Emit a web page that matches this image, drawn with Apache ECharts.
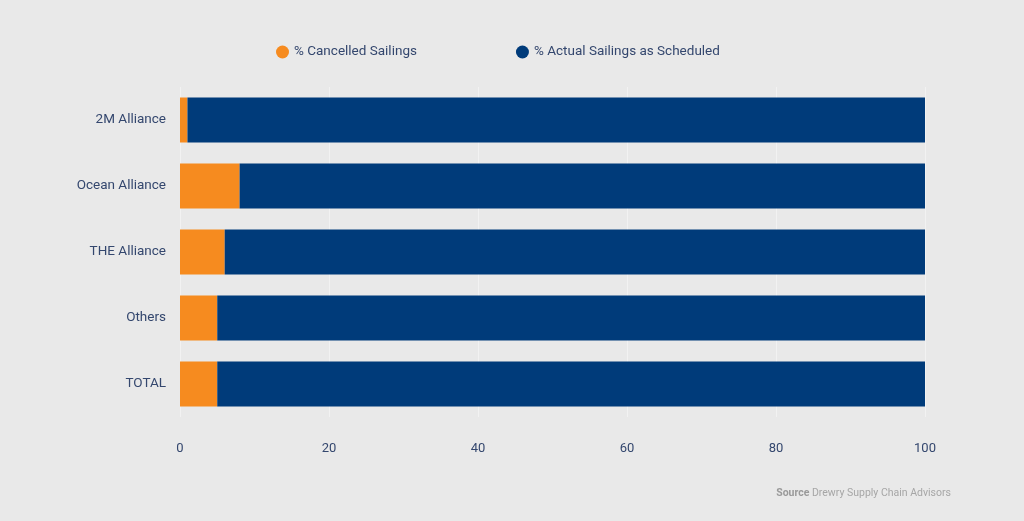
<!DOCTYPE html>
<html>
<head>
<meta charset="utf-8">
<script src="https://cdn.jsdelivr.net/npm/echarts@6/dist/echarts.min.js"></script>
<style>
  html, body { margin: 0; padding: 0; background: #e9e9e9; }
  #chart { width: 1024px; height: 521px; }
</style>
</head>
<body>
<div id="chart"></div>
<script>
// data
const categories = ['2M Alliance', 'Ocean Alliance', 'THE Alliance', 'Others', 'TOTAL'];
const cancelled = [1, 8, 6, 5, 5];
const actual = [99, 92, 94, 95, 95];

const textColor = '#34476e';
const fontFamily = 'Roboto, "Noto Sans", sans-serif';

let myChart = echarts.init(document.getElementById('chart'));

myChart.setOption({
    backgroundColor: '#e9e9e9',
    animation: false,
    textStyle: { fontFamily: fontFamily },
    legend: {
        top: 40,
        left: 271,
        itemWidth: 13,
        itemHeight: 13,
        itemGap: 99,
        icon: 'circle',
        textStyle: { color: textColor, fontSize: 13.5, fontFamily: fontFamily },
        data: ['% Cancelled Sailings', '% Actual Sailings as Scheduled']
    },
    grid: { left: 180, right: 99, top: 87, bottom: 104 },
    xAxis: {
        type: 'value',
        min: 0,
        max: 100,
        interval: 20,
        axisLine: { show: false },
        axisTick: { show: false },
        axisLabel: { color: textColor, fontSize: 13, margin: 25 },
        splitLine: { lineStyle: { color: '#f2f2f2', width: 1 } }
    },
    yAxis: {
        type: 'category',
        inverse: true,
        data: categories,
        axisLine: { show: false },
        axisTick: { show: false },
        axisLabel: { color: textColor, fontSize: 13.5, margin: 14 }
    },
    series: [
        {
            name: '% Cancelled Sailings',
            type: 'bar',
            stack: 'total',
            barWidth: 45,
            itemStyle: { color: '#f68b1f' },
            data: cancelled
        },
        {
            name: '% Actual Sailings as Scheduled',
            type: 'bar',
            stack: 'total',
            barWidth: 45,
            itemStyle: { color: '#003b7a' },
            data: actual
        }
    ],
    graphic: [{
        type: 'text',
        right: 73,
        top: 488,
        style: {
            text: '{b|Source} Drewry Supply Chain Advisors',
            fill: '#a6a6a6',
            fontSize: 10.5,
            fontFamily: fontFamily,
            rich: { b: { fontWeight: 'bold', fill: '#9a9a9a', fontSize: 10.5, fontFamily: fontFamily } }
        }
    }]
});
</script>
</body>
</html>
